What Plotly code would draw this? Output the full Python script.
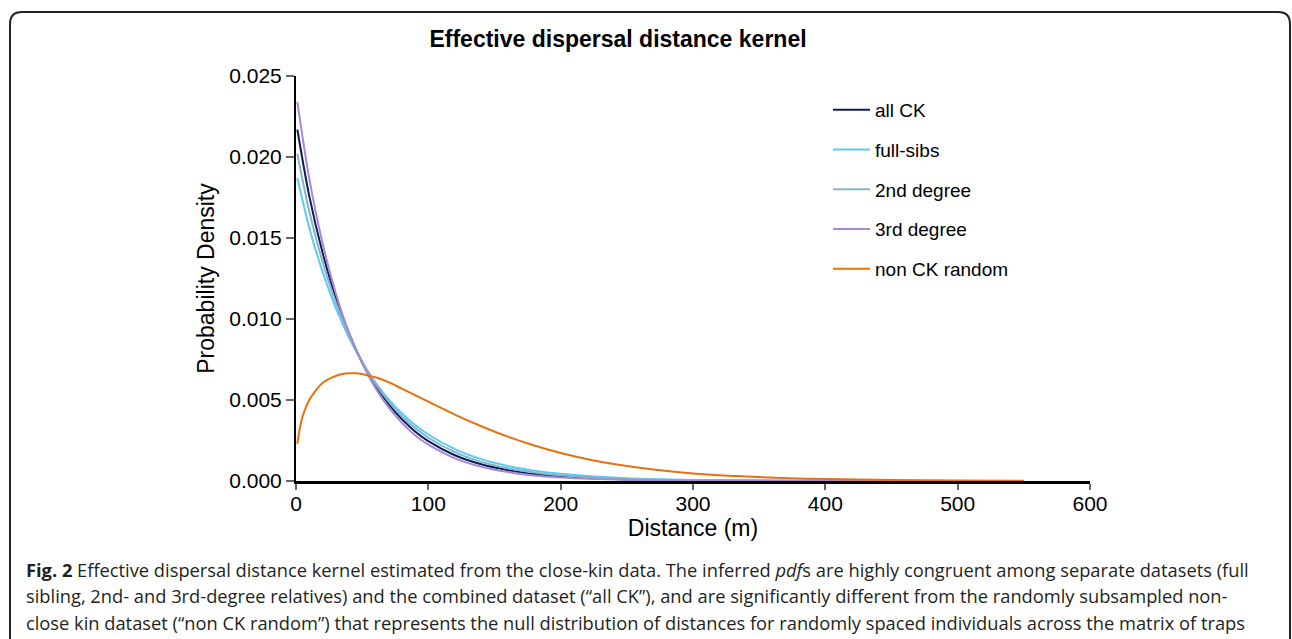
import plotly.graph_objects as go

# Distance (m) sample points
distance = [1, 10, 20, 30, 40, 50, 60, 70, 80, 90, 100, 120, 140, 160, 180, 200,
            250, 300, 350, 400, 450, 500, 550]

all_ck = [0.02170, 0.01760, 0.01412, 0.01134, 0.00911, 0.00733, 0.00589, 0.00474,
          0.00381, 0.00306, 0.00246, 0.00159, 0.00103, 0.00067, 0.00043, 0.00028,
          0.000094, 0.000031, 0.0000106, 0.0000036, 0.0000012, 0.0000004, 0.0000001]

full_sibs = [0.01870, 0.01565, 0.01293, 0.01070, 0.00886, 0.00734, 0.00609, 0.00504,
             0.00418, 0.00346, 0.00287, 0.00197, 0.00135, 0.00093, 0.00064, 0.00044,
             0.00017, 0.000067, 0.000026, 0.000010, 0.0000040, 0.0000016, 0.0000006]

second_degree = [0.02020, 0.01665, 0.01355, 0.01104, 0.00901, 0.00736, 0.00600, 0.00490,
                 0.00400, 0.00327, 0.00267, 0.00178, 0.00118, 0.00079, 0.00053, 0.00035,
                 0.000127, 0.000046, 0.0000167, 0.0000060, 0.0000022, 0.0000008, 0.0000003]

third_degree = [0.02340, 0.01868, 0.01471, 0.01161, 0.00918, 0.00726, 0.00574, 0.00454,
                0.00359, 0.00283, 0.00224, 0.00140, 0.00088, 0.00055, 0.00034, 0.00021,
                0.000066, 0.0000204, 0.0000063, 0.0000019, 0.0000006, 0.0000002, 0.0000001]

distance_random = [1, 3, 5, 10, 15, 20, 25, 30, 35, 40, 45, 50, 55, 60, 70, 80, 90, 100,
                   110, 120, 140, 160, 180, 200, 225, 250, 275, 300, 350, 400, 450, 500, 550]
non_ck_random = [0.0023, 0.0033, 0.0040, 0.0050, 0.0056, 0.00605, 0.0063, 0.00648, 0.0066,
                 0.00665, 0.00665, 0.0066, 0.0065, 0.0064, 0.0061, 0.0057, 0.0053, 0.0049,
                 0.0045, 0.0041, 0.00338, 0.00274, 0.00219, 0.00173, 0.00127, 0.00092,
                 0.00066, 0.00047, 0.00024, 0.00012, 0.00006, 0.00003, 0.00001]

series_names = ["all CK", "full-sibs", "2nd degree", "3rd degree", "non CK random"]
series_colors = ["#0d1a5c", "#5ccbf2", "#84b4c8", "#a889cf", "#e8700e"]

x_ticks = [0, 100, 200, 300, 400, 500, 600]
y_ticks = [0.000, 0.005, 0.010, 0.015, 0.020, 0.025]

caption_lines = [
    "<b>Fig. 2</b> Effective dispersal distance kernel estimated from the close-kin data. The inferred <i>pdf</i>s are highly congruent among separate datasets (full",
    "sibling, 2nd- and 3rd-degree relatives) and the combined dataset (“all CK”), and are significantly different from the randomly subsampled non-",
    "close kin dataset (“non CK random”) that represents the null distribution of distances for randomly spaced individuals across the matrix of traps",
]

W, H = 1292, 639
L, R, T, B = 296, 1090, 76, 481

fig = go.Figure()
data = [(distance, all_ck), (distance, full_sibs), (distance, second_degree),
        (distance, third_degree), (distance_random, non_ck_random)]
for i in range(5):
    xs, ys = data[i]
    fig.add_trace(go.Scatter(
        x=xs, y=ys, mode="lines", name=series_names[i],
        line=dict(color=series_colors[i], width=2, shape="spline", smoothing=0.8),
        legendgroup=str(i), legendrank=i + 1,
    ))

fig.update_layout(
    width=W, height=H,
    margin=dict(l=L, r=W - R, t=T, b=H - B, pad=0),
    paper_bgcolor="white", plot_bgcolor="white",
    font=dict(family="Liberation Sans, Arial, sans-serif", size=19, color="black"),
    title=dict(text="<b>Effective dispersal distance kernel</b>",
               x=618 / W, xref="container",
               xanchor="center", y=1 - 39 / H, yanchor="middle",
               font=dict(size=23, color="black")),
    showlegend=True,
    legend=dict(x=(828 - L) / (R - L), y=(B - 91) / (B - T), xanchor="left", yanchor="top",
                bgcolor="rgba(0,0,0,0)", font=dict(size=19), traceorder="grouped",
                tracegroupgap=12, itemwidth=37),
)

fig.update_xaxes(range=[0, 600], tickvals=x_ticks, ticktext=[str(v) for v in x_ticks],
                 showgrid=False, zeroline=False, showline=True, linecolor="black",
                 linewidth=2.5, ticks="outside", ticklen=6, tickcolor="#666", tickwidth=1.5,
                 tickfont=dict(size=21), ticklabelstandoff=-4,
                 title=dict(text="Distance (m)", font=dict(size=23), standoff=4))
fig.update_yaxes(range=[0, 0.025], tickvals=y_ticks, ticktext=[f"{v:.3f}" for v in y_ticks],
                 showgrid=False, zeroline=False, showline=True, linecolor="black",
                 linewidth=2, ticks="outside", ticklen=8, tickcolor="#666", tickwidth=1.5,
                 tickfont=dict(size=21),
                 title=dict(text="Probability Density", font=dict(size=23), standoff=8))

# rounded frame around figure + caption
def px(xp):
    return (xp - L) / (R - L)

def py(yp):
    return (B - yp) / (B - T)

x0, x1, y0, y1, r = 10, 1290, 12, 660, 12
path = (f"M {px(x0)},{py(y1)} L {px(x0)},{py(y0 + r)} Q {px(x0)},{py(y0)} {px(x0 + r)},{py(y0)} "
        f"L {px(x1 - r)},{py(y0)} Q {px(x1)},{py(y0)} {px(x1)},{py(y0 + r)} L {px(x1)},{py(y1)}")
fig.add_shape(type="path", path=path, xref="paper", yref="paper",
              line=dict(color="#222222", width=2))

for k, line in enumerate(caption_lines):
    fig.add_annotation(text=line, xref="paper", yref="paper", x=px(24), y=py(569 + 26.5 * k),
                       xanchor="left", yanchor="middle", showarrow=False, align="left",
                       font=dict(family="Open Sans, sans-serif", size=18.3, color="#231f20"))

fig.write_html("out.html")
